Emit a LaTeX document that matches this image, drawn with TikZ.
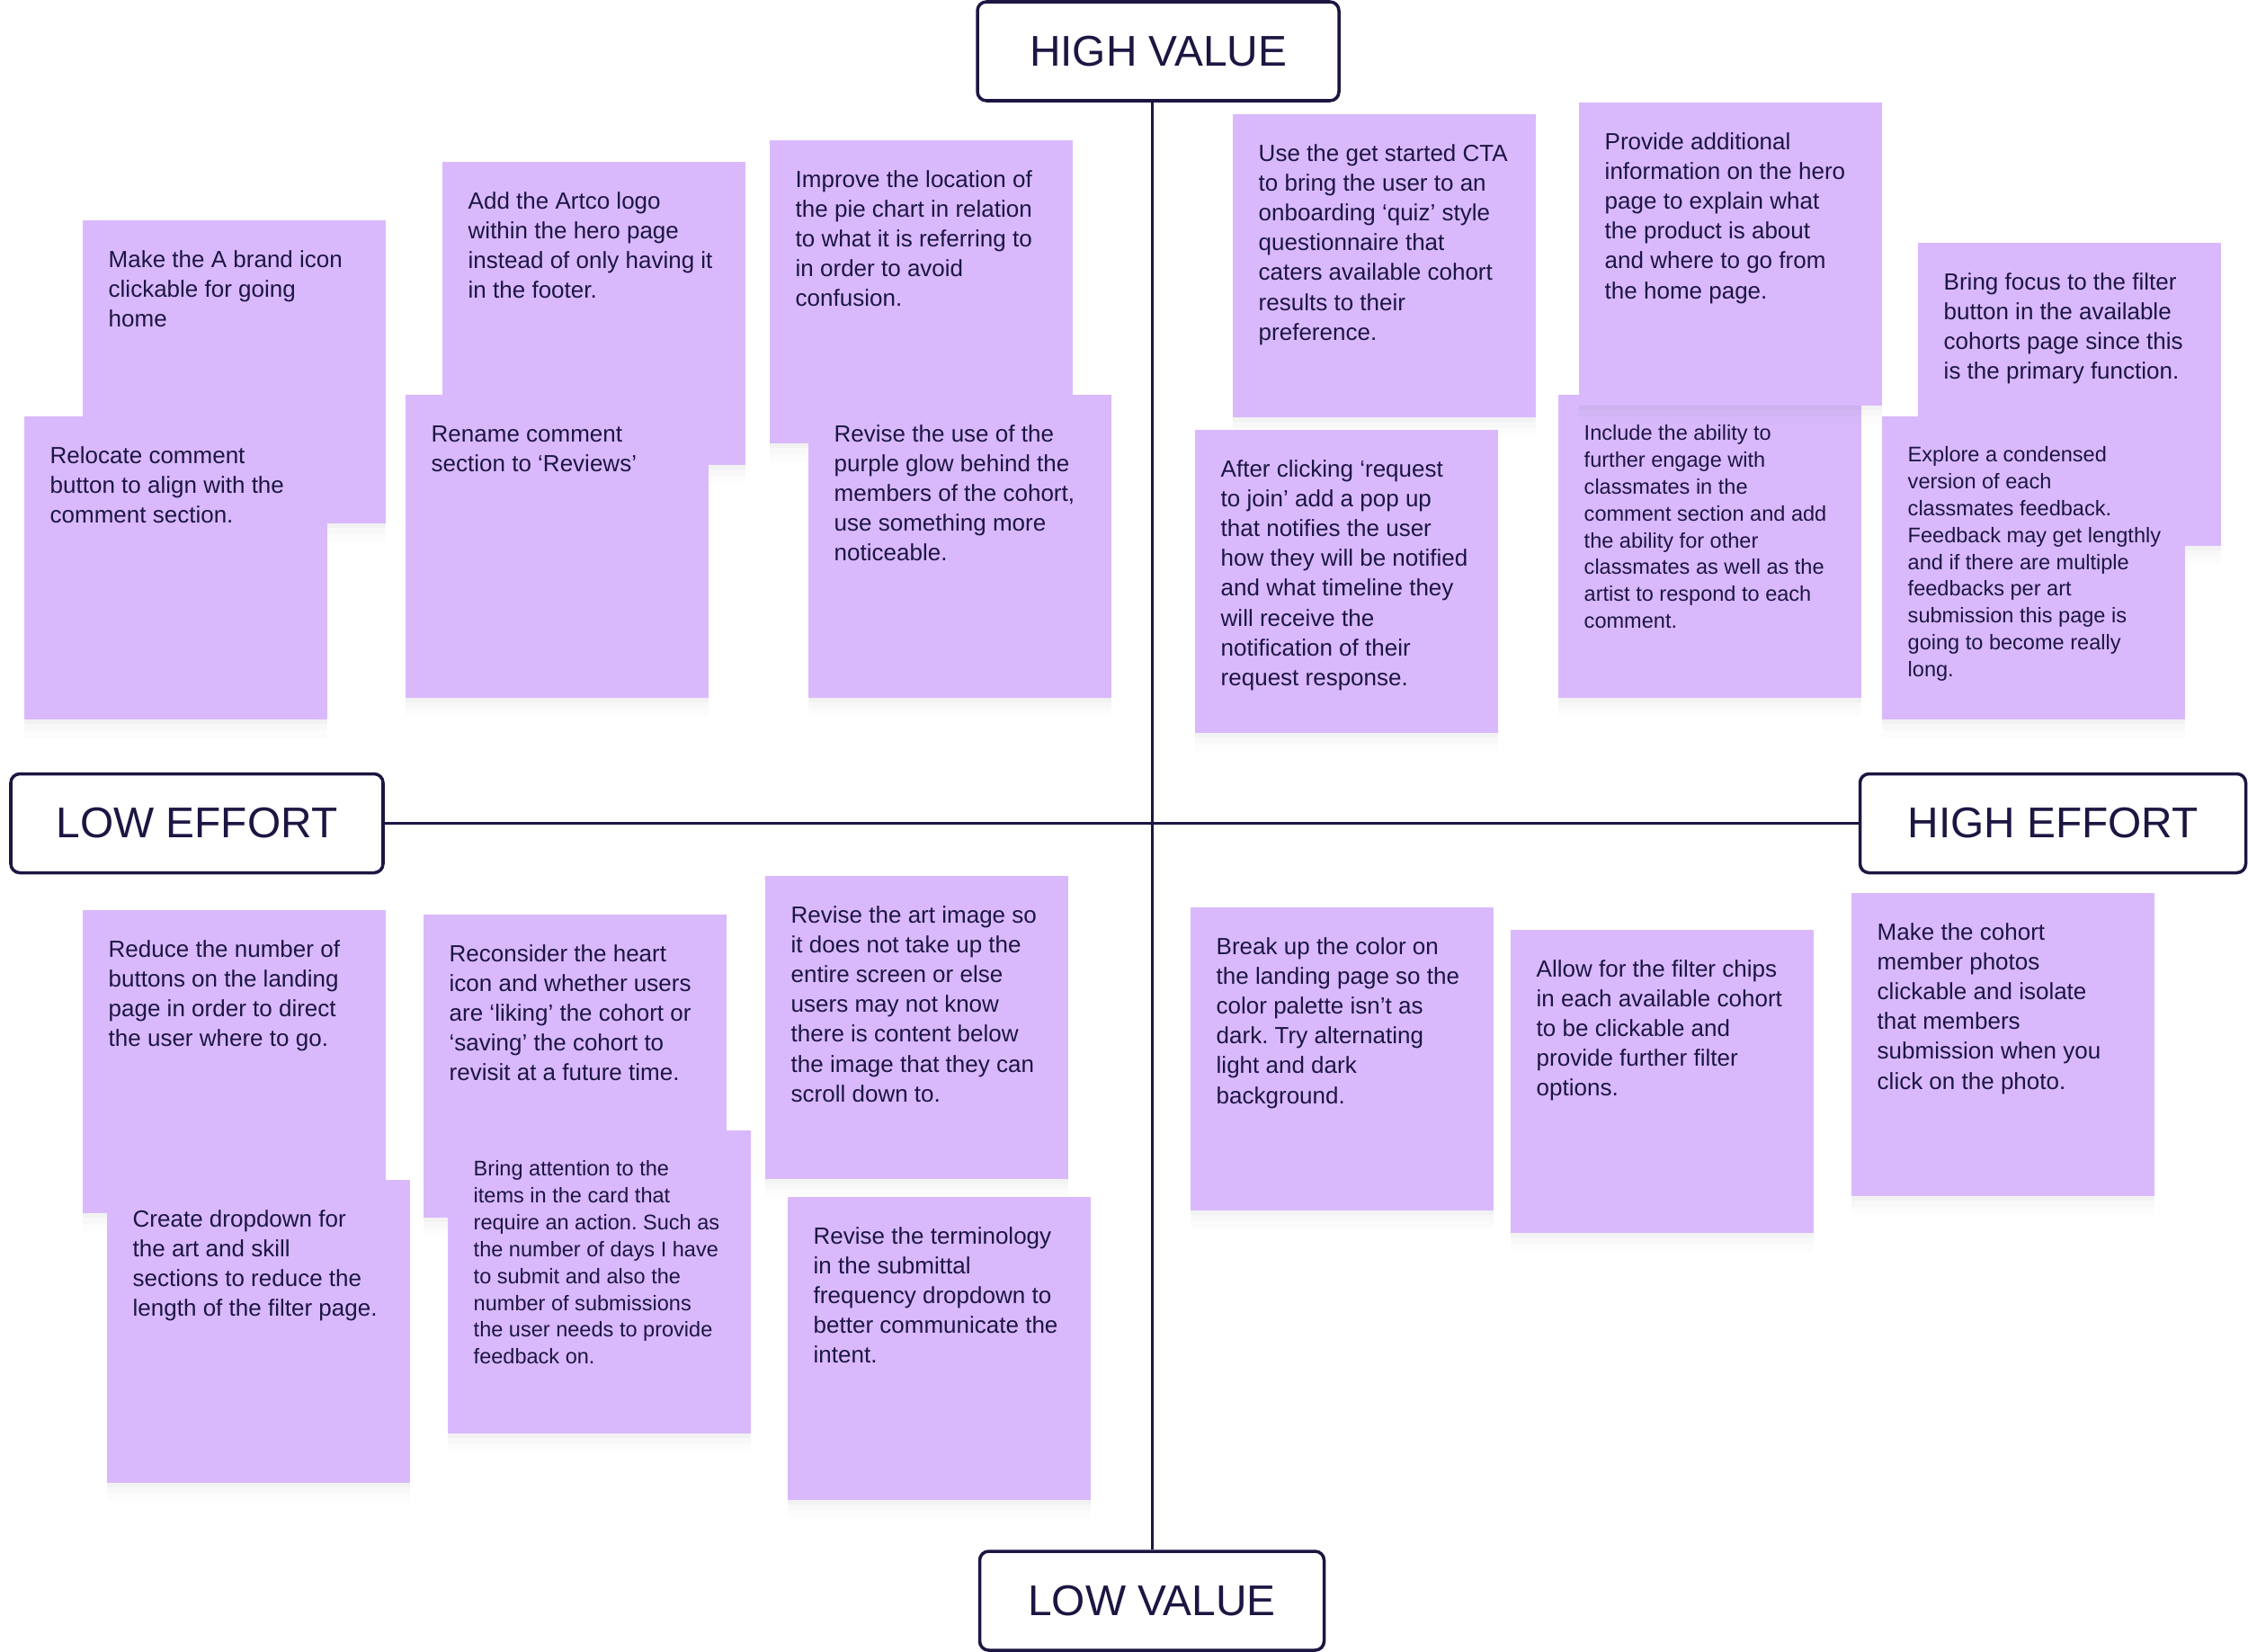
\documentclass[tikz,border=0pt]{standalone}
\usepackage{fontspec}
\setmainfont{Liberation Sans}
\usetikzlibrary{positioning,shadows}
\definecolor{matrixnavy}{RGB}{28,22,66}
\definecolor{stickylilac}{RGB}{217,185,252}
\frenchspacing
\newcommand{\stickytext}[1]{\parbox[c][2.77cm][t]{2.79cm}{\noindent\begin{tabular}[t]{@{}l@{}}#1\end{tabular}}}

\begin{document}
\begin{tikzpicture}[
    axislabel/.style={draw=matrixnavy, line width=1pt, rounded corners=0.1cm, fill=white,
      text=matrixnavy, font=\fontsize{13.6}{16}\selectfont, minimum height=1.1cm},
    axisline/.style={draw=matrixnavy, line width=0.85pt},
    sticky/.style={fill=stickylilac, anchor=north west, text=matrixnavy,
      inner xsep=0.29cm, inner ysep=0.3cm, font=\fontsize{7.4}{9.4}\selectfont,
      drop shadow={shadow xshift=0pt, shadow yshift=-0.2cm, opacity=0.025},
      drop shadow={shadow xshift=0pt, shadow yshift=-0.12cm, opacity=0.035},
      drop shadow={shadow xshift=0pt, shadow yshift=-0.05cm, opacity=0.05}},
    smallsticky/.style={sticky, font=\fontsize{6.7}{8.5}\selectfont}
  ]
  \useasboundingbox (0,0) rectangle (25,-18.36);
  % axes
  \node[axislabel, minimum width=4.02cm] (highvalue) at (12.88,-0.57) {HIGH VALUE};
  \node[axislabel, minimum width=3.83cm] (lowvalue) at (12.81,-17.80) {LOW VALUE};
  \node[axislabel, minimum width=4.14cm] (loweffort) at (2.19,-9.155) {LOW EFFORT};
  \node[axislabel, minimum width=4.29cm] (higheffort) at (22.83,-9.155) {HIGH EFFORT};
  \draw[axisline] (lowvalue.north) -- (lowvalue.north |- highvalue.south);
  \draw[axisline] (loweffort.east) -- (higheffort.west);

  % high value, low effort
  \node[sticky] (brandicon) at (0.91,-2.44) {\stickytext{Make the A brand icon\\clickable for going\\home}};
  \node[sticky] (relocate) at (0.26,-4.62) {\stickytext{Relocate comment\\button to align with the\\comment section.}};
  \node[sticky] (artcologo) at (4.91,-1.79) {\stickytext{Add the Artco logo\\within the hero page\\instead of only having it\\in the footer.}};
  \node[sticky] (rename) at (4.50,-4.38) {\stickytext{Rename comment\\section to ‘Reviews’}};
  \node[sticky] (piechart) at (8.55,-1.55) {\stickytext{Improve the location of\\the pie chart in relation\\to what it is referring to\\in order to avoid\\confusion.}};
  \node[sticky] (purpleglow) at (8.98,-4.38) {\stickytext{Revise the use of the\\purple glow behind the\\members of the cohort,\\use something more\\noticeable.}};

  % high value, high effort
  \node[sticky] (getstarted) at (13.70,-1.26) {\stickytext{Use the get started CTA\\to bring the user to an\\onboarding ‘quiz’ style\\questionnaire that\\caters available cohort\\results to their\\preference.}};
  \node[sticky] (requestjoin) at (13.28,-4.77) {\stickytext{After clicking ‘request\\to join’ add a pop up\\that notifies the user\\how they will be notified\\and what timeline they\\will receive the\\notification of their\\request response.}};
  \node[smallsticky] (engage) at (17.32,-4.38) {\stickytext{Include the ability to\\further engage with\\classmates in the\\comment section and add\\the ability for other\\classmates as well as the\\artist to respond to each\\comment.}};
  \node[sticky] (heroinfo) at (17.55,-1.13) {\stickytext{Provide additional\\information on the hero\\page to explain what\\the product is about\\and where to go from\\the home page.}};
  \node[sticky] (filterfocus) at (21.32,-2.69) {\stickytext{Bring focus to the filter\\button in the available\\cohorts page since this\\is the primary function.}};
  \node[smallsticky] (condensed) at (20.92,-4.62) {\stickytext{Explore a condensed\\version of each\\classmates feedback.\\Feedback may get lengthly\\and if there are multiple\\feedbacks per art\\submission this page is\\going to become really\\long.}};

  % low value, low effort
  \node[sticky] (fewerbuttons) at (0.91,-10.11) {\stickytext{Reduce the number of\\buttons on the landing\\page in order to direct\\the user where to go.}};
  \node[sticky] (dropdown) at (1.18,-13.11) {\stickytext{Create dropdown for\\the art and skill\\sections to reduce the\\length of the filter page.}};
  \node[sticky] (hearticon) at (4.70,-10.16) {\stickytext{Reconsider the heart\\icon and whether users\\are ‘liking’ the cohort or\\‘saving’ the cohort to\\revisit at a future time.}};
  \node[smallsticky] (cardactions) at (4.97,-12.56) {\stickytext{Bring attention to the\\items in the card that\\require an action. Such as\\the number of days I have\\to submit and also the\\number of submissions\\the user needs to provide\\feedback on.}};
  \node[sticky] (artimage) at (8.50,-9.73) {\stickytext{Revise the art image so\\it does not take up the\\entire screen or else\\users may not know\\there is content below\\the image that they can\\scroll down to.}};
  \node[sticky] (terminology) at (8.75,-13.30) {\stickytext{Revise the terminology\\in the submittal\\frequency dropdown to\\better communicate the\\intent.}};

  % low value, high effort
  \node[sticky] (colorbreak) at (13.23,-10.08) {\stickytext{Break up the color on\\the landing page so the\\color palette isn’t as\\dark. Try alternating\\light and dark\\background.}};
  \node[sticky] (filterchips) at (16.79,-10.33) {\stickytext{Allow for the filter chips\\in each available cohort\\to be clickable and\\provide further filter\\options.}};
  \node[sticky] (memberphotos) at (20.58,-9.92) {\stickytext{Make the cohort\\member photos\\clickable and isolate\\that members\\submission when you\\click on the photo.}};
\end{tikzpicture}
\end{document}
